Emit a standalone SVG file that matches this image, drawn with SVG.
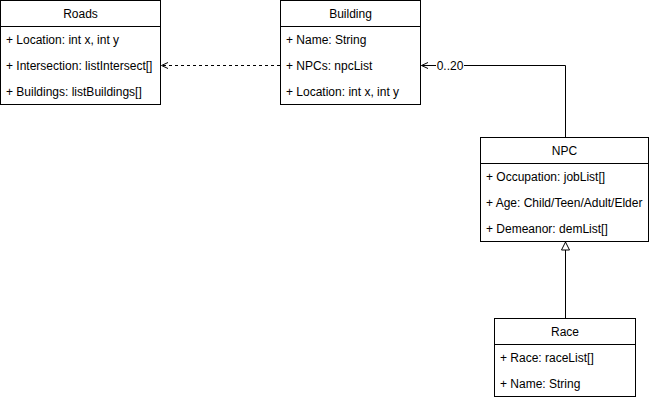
<svg xmlns="http://www.w3.org/2000/svg" width="651" height="400" viewBox="0 0 651 400">
<defs>
<style>
.box{fill:#fff;stroke:#000;stroke-width:1}
.ln{stroke:#000;stroke-width:1;fill:none}
.t{font-family:"Liberation Sans",Arial,sans-serif;font-size:12px;fill:#000}
.h{text-anchor:middle}
</style>
<marker id="open" markerWidth="10" markerHeight="10" refX="7" refY="4" orient="auto" markerUnits="userSpaceOnUse" viewBox="0 0 10 8">
<path d="M0.5,1 L7,4 L0.5,7" fill="none" stroke="#000" stroke-width="1"/>
</marker>
<marker id="tri" markerWidth="10" markerHeight="10" refX="8.5" refY="4.5" orient="auto" markerUnits="userSpaceOnUse" viewBox="0 0 10 9">
<path d="M0.5,0.5 L8.5,4.5 L0.5,8.5 Z" fill="#fff" stroke="#000" stroke-width="1"/>
</marker>
</defs>
<rect width="651" height="400" fill="#fff"/>
<g id="roads">
<rect class="box" x="0.5" y="0.5" width="160" height="104"/>
<line class="ln" x1="0.5" y1="26.5" x2="160.5" y2="26.5"/>
<text class="t h" x="80.5" y="18">Roads</text>
<text class="t" x="6" y="44">+ Location: int x, int y</text>
<text class="t" x="6" y="70">+ Intersection: listIntersect[]</text>
<text class="t" x="6" y="96">+ Buildings: listBuildings[]</text>
</g>
<g id="building">
<rect class="box" x="280.5" y="0.5" width="140" height="104"/>
<line class="ln" x1="280.5" y1="26.5" x2="420.5" y2="26.5"/>
<text class="t h" x="350.5" y="18">Building</text>
<text class="t" x="286" y="44">+ Name: String</text>
<text class="t" x="286" y="70">+ NPCs: npcList</text>
<text class="t" x="286" y="96">+ Location: int x, int y</text>
</g>
<g id="npc">
<rect class="box" x="480.5" y="137.5" width="168" height="104"/>
<line class="ln" x1="480.5" y1="163.5" x2="648.5" y2="163.5"/>
<text class="t h" x="564.5" y="155">NPC</text>
<text class="t" x="486" y="181">+ Occupation: jobList[]</text>
<text class="t" x="486" y="207">+ Age: Child/Teen/Adult/Elder</text>
<text class="t" x="486" y="233">+ Demeanor: demList[]</text>
</g>
<g id="race">
<rect class="box" x="494.5" y="318.5" width="141" height="78"/>
<line class="ln" x1="494.5" y1="344.5" x2="635.5" y2="344.5"/>
<text class="t h" x="565" y="336">Race</text>
<text class="t" x="500" y="362">+ Race: raceList[]</text>
<text class="t" x="500" y="388">+ Name: String</text>
</g>
<g id="connectors">
<path class="ln" d="M280,65.5 L161.5,65.5" stroke-dasharray="3,3" marker-end="url(#open)"/>
<path class="ln" d="M565.5,137 L565.5,65.5 L421.5,65.5" marker-end="url(#open)"/>
<rect x="436" y="58" width="28" height="14" fill="#fff"/>
<text class="t" x="450" y="69.5" text-anchor="middle" font-size="11">0..20</text>
<path class="ln" d="M565.5,318 L565.5,242" marker-end="url(#tri)"/>
</g>
</svg>
